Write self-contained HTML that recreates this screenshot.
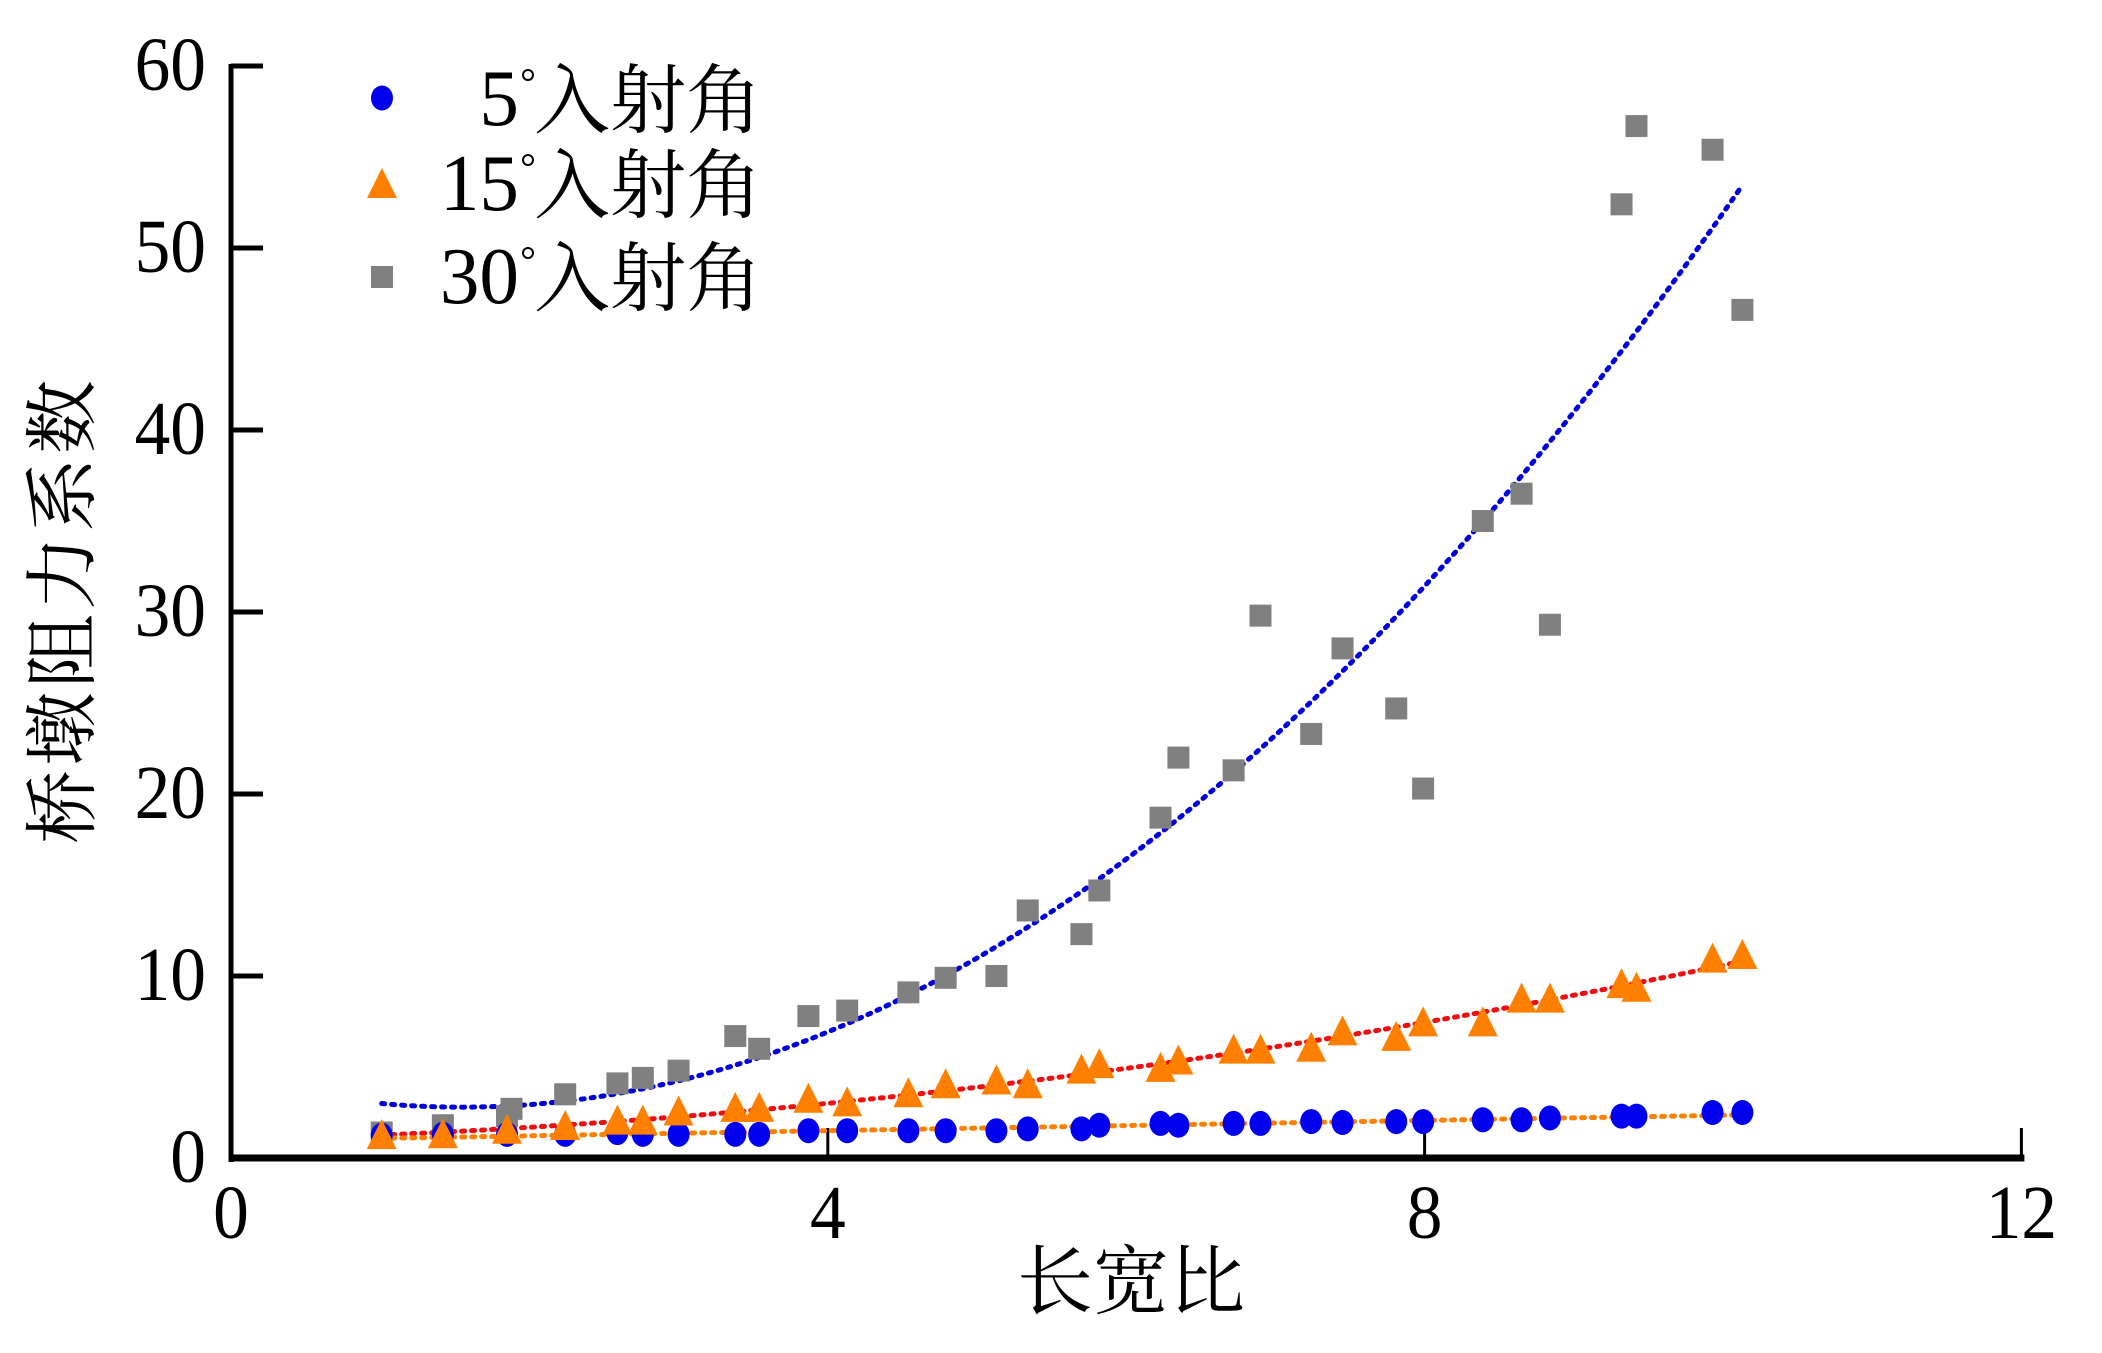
<!DOCTYPE html>
<html><head><meta charset="utf-8"><style>
html,body{margin:0;padding:0;background:#fff;width:2102px;height:1353px;overflow:hidden}
svg text{font-family:"Liberation Serif","Noto Serif CJK SC","Noto Sans CJK SC",serif;fill:#000}
</style></head><body>
<svg id="chart" width="2102" height="1353" viewBox="0 0 2102 1353" xmlns="http://www.w3.org/2000/svg">
<g id="axes"></g>
<g id="fits"></g>
<g id="marks"></g>
<g id="legend"></g>
<text transform="translate(88,610) rotate(-90)" text-anchor="middle" font-size="74" letter-spacing="4">桥墩阻力系数</text>
<text x="1131" y="1308" text-anchor="middle" font-size="76">长宽比</text>
</svg>
<script>
const xs=[1.01,1.42,1.85,2.24,2.59,2.76,3.0,3.38,3.54,3.87,4.13,4.54,4.79,5.13,5.34,5.7,5.82,6.23,6.35,6.72,6.9,7.24,7.45,7.81,7.99,8.39,8.65,8.84,9.32,9.42,9.93,10.13];
const y5=[1.25,1.3,1.3,1.3,1.4,1.3,1.3,1.3,1.3,1.5,1.5,1.5,1.5,1.5,1.6,1.6,1.8,1.9,1.8,1.9,1.9,2.0,1.95,2.0,2.0,2.1,2.1,2.2,2.3,2.3,2.5,2.5];
const y15=[1.2,1.25,1.5,1.7,2.0,2.0,2.5,2.7,2.7,3.2,3.0,3.5,4.0,4.2,4.0,4.8,5.1,4.9,5.3,5.9,5.9,6.0,6.9,6.6,7.4,7.4,8.7,8.7,9.5,9.3,10.9,11.1];
const xs30=[1.01,1.42,1.85,1.88,2.24,2.59,2.76,3.0,3.38,3.54,3.87,4.13,4.54,4.79,5.13,5.34,5.7,5.82,6.23,6.35,6.72,6.9,7.24,7.45,7.81,7.99,8.39,8.65,8.84,9.32,9.42,9.93,10.13];
const y30=[1.4,1.8,2.3,2.7,3.5,4.1,4.4,4.8,6.7,6.0,7.8,8.1,9.1,9.9,10.0,13.6,12.3,14.7,18.7,22.0,21.3,29.8,23.3,28.0,24.7,20.3,35.0,36.5,29.3,52.4,56.7,55.4,46.6];
const xTicks=[0,4,8,12];
const yTicks=[0,10,20,30,40,50,60];
const legendLabels=["5","15","30"];

const NS="http://www.w3.org/2000/svg";
const X=v=>231+v*149.2, Y=v=>1158-v*18.2;
function mk(tag,attrs,parent){const e=document.createElementNS(NS,tag);for(const k in attrs)e.setAttribute(k,attrs[k]);parent.appendChild(e);return e;}
const axes=document.getElementById('axes'),fits=document.getElementById('fits'),marks=document.getElementById('marks'),legend=document.getElementById('legend');

let a=mk('line',{x1:X(0),y1:Y(60)-2,x2:X(0),y2:Y(0)+4,stroke:'#000','stroke-width':5},axes);


a=mk('line',{x1:X(0)-2,y1:Y(0),x2:X(12)+3,y2:Y(0),stroke:'#000','stroke-width':7},axes);


yTicks.forEach(t=>{
  const l=mk('line',{x1:X(0),y1:Y(t),x2:X(0)+32,y2:Y(t),stroke:'#000','stroke-width':5},axes);
  
  
  const tx=mk('text',{x:0,y:0,'text-anchor':'end','font-size':68,transform:`translate(206,${Y(t)+24}) scale(1.05,1.12)`},axes);
  
  
  tx.textContent=t;
});
xTicks.forEach(t=>{
  if(t>0){const l=mk('line',{x1:X(t),y1:Y(0),x2:X(t),y2:Y(0)-30,stroke:'#000','stroke-width':3},axes);
  
  }
  const tx=mk('text',{x:0,y:0,'text-anchor':'middle','font-size':68,transform:`translate(${X(t)},1238) scale(1.05,1.12)`},axes);
  
  
  tx.textContent=t;
});

function polyfit(x,y,deg){
  const n=deg+1,A=[],b=[];
  for(let i=0;i<n;i++){A.push(new Array(n).fill(0));b.push(0);}
  for(let k=0;k<x.length;k++){for(let i=0;i<n;i++){b[i]+=y[k]*Math.pow(x[k],i);for(let j=0;j<n;j++)A[i][j]+=Math.pow(x[k],i+j);}}
  for(let i=0;i<n;i++){let p=i;for(let r=i+1;r<n;r++)if(Math.abs(A[r][i])>Math.abs(A[p][i]))p=r;[A[i],A[p]]=[A[p],A[i]];[b[i],b[p]]=[b[p],b[i]];
    for(let r=i+1;r<n;r++){const f=A[r][i]/A[i][i];for(let j=i;j<n;j++)A[r][j]-=f*A[i][j];b[r]-=f*b[i];}}
  const c=new Array(n).fill(0);
  for(let i=n-1;i>=0;i--){let s=b[i];for(let j=i+1;j<n;j++)s-=A[i][j]*c[j];c[i]=s/A[i][i];}
  return c;
}
function fitLine(x,y,deg,color,name){
  const c=polyfit(x,y,deg),x0=Math.min(...x),x1=Math.max(...x);let d='';
  for(let i=0;i<=100;i++){const xv=x0+(x1-x0)*i/100;let yv=0;c.forEach((ci,k)=>yv+=ci*Math.pow(xv,k));d+=(i?'L':'M')+X(xv).toFixed(1)+','+Y(yv).toFixed(1);}
  const p=mk('path',{d:d,fill:'none',stroke:color,'stroke-width':5,'stroke-dasharray':'3 7','stroke-linecap':'round'},fits);
  
  
}

function square(cx,cy,g){return mk('rect',{x:cx-11,y:cy-11,width:22,height:22,fill:'#808080'},g);}
function tri(cx,cy,g){return mk('polygon',{points:`${cx},${cy-17} ${cx-15},${cy+13} ${cx+15},${cy+13}`,fill:'#ff8000'},g);}
function circ(cx,cy,g){return mk('ellipse',{cx:cx,cy:cy,rx:11,ry:12.5,fill:'#0000ee'},g);}

xs30.forEach((x,i)=>{const e=square(X(x),Y(y30[i]),marks);
  
  });
xs.forEach((x,i)=>{const e=circ(X(x),Y(y5[i]),marks);
  
  });
xs.forEach((x,i)=>{const e=tri(X(x),Y(y15[i]),marks);
  
  });
fitLine(xs30,y30,2,'#0000dd','fit-30deg');
fitLine(xs,y15,2,'#ee1010','fit-15deg');
fitLine(xs,y5,1,'#ff8000','fit-5deg');

const ly=[98,185,277],lb=[125,210,303];
[circ,tri,square].forEach((f,i)=>{
  const g=mk('g',{},legend);
  
  
  f(382,ly[i],g);
  const n=mk('text',{x:0,y:0,'text-anchor':'end','font-size':72,transform:`translate(519,${lb[i]}) scale(1.1,1.12)`},g);
  
  
  n.textContent=legendLabels[i];
  const dg=mk('circle',{cx:528,cy:lb[i]-50,r:5,fill:'none',stroke:'#000','stroke-width':2},g);
  
  
  const t=mk('text',{x:762,y:lb[i]+2,'text-anchor':'end','font-size':76},g);
  
  
  t.textContent='入射角';
});
</script>
</body></html>
